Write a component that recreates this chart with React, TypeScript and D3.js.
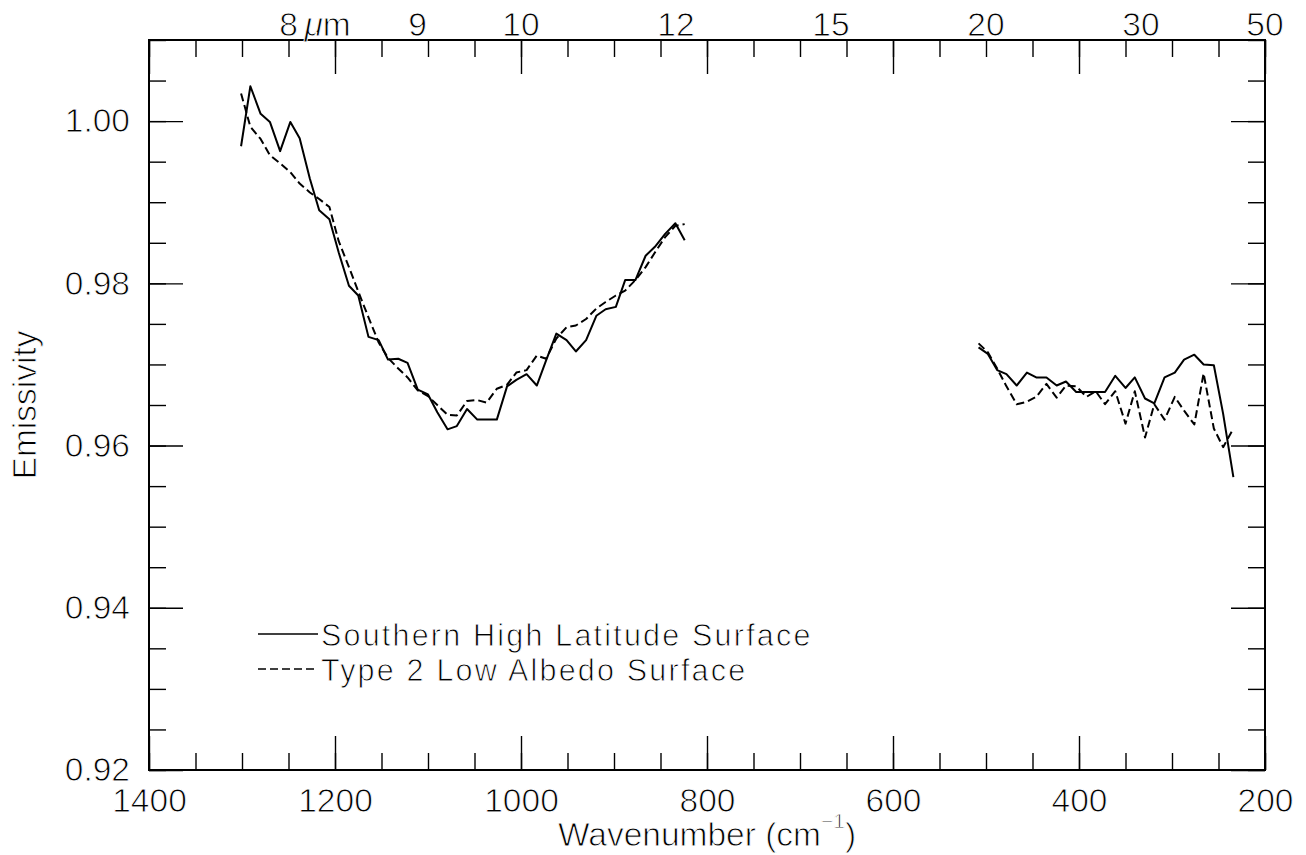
import React, { useEffect, useRef } from 'react'
import * as d3 from 'd3'

// wavenumber grid (cm-1) of the two spectral ranges
const wavenumbersA = [
  1301, 1291, 1280, 1270, 1259, 1248, 1238, 1227, 1217, 1206, 1196, 1185, 1175,
  1164, 1153, 1143, 1132, 1122, 1111, 1100, 1090, 1079, 1069, 1058, 1047, 1037,
  1026, 1015, 1005, 994, 983, 973, 962, 951, 941, 930, 919, 909, 898, 888, 877,
  866, 856, 845, 834, 824
]
const wavenumbersB = [
  508, 498, 488, 478, 467, 456, 446, 435, 424, 414, 403, 392, 382, 372, 361,
  350, 340, 329, 319, 308, 297, 287, 276, 266, 255, 245, 234
]

// Southern High Latitude Surface (solid)
const southernA = [
  0.9969, 1.0043, 1.0009, 0.9999, 0.9963, 0.9999, 0.9979, 0.9929, 0.989,
  0.9879, 0.9838, 0.9797, 0.9785, 0.9734, 0.973, 0.9706, 0.9707, 0.9702,
  0.9669, 0.9663, 0.9641, 0.962, 0.9624, 0.9645, 0.9632, 0.9632, 0.9632,
  0.9673, 0.9681, 0.9688, 0.9674, 0.9705, 0.9738, 0.973, 0.9716, 0.973, 0.976,
  0.9768, 0.9771, 0.9804, 0.9804, 0.9834, 0.9845, 0.9861, 0.9874, 0.9853
]
const southernB = [
  0.9721, 0.9713, 0.9693, 0.9688, 0.9674, 0.969, 0.9684, 0.9684, 0.9674,
  0.9679, 0.9666, 0.9666, 0.9666, 0.9666, 0.9686, 0.9671, 0.9684, 0.9658,
  0.9652, 0.9684, 0.969, 0.9706, 0.9712, 0.97, 0.9699, 0.9639, 0.9561
]

// Type 2 Low Albedo Surface (dashed)
const type2A = [
  1.0034, 0.9993, 0.9978, 0.9958, 0.9948, 0.9937, 0.9923, 0.9912, 0.9904,
  0.9894, 0.9852, 0.982, 0.979, 0.9758, 0.9727, 0.9708, 0.9695, 0.9684,
  0.9668, 0.9661, 0.965, 0.9638, 0.9637, 0.9655, 0.9656, 0.9653, 0.967,
  0.9675, 0.969, 0.9693, 0.9711, 0.9707, 0.9732, 0.9746, 0.9748, 0.9756,
  0.9769, 0.9777, 0.9785, 0.9791, 0.9804, 0.982, 0.9838, 0.9857, 0.9871, 0.9873
]
const type2B = [
  0.9726, 0.9715, 0.9695, 0.9673, 0.9651, 0.9654, 0.966, 0.9676, 0.9659,
  0.9674, 0.9673, 0.966, 0.9667, 0.9651, 0.9667, 0.9627, 0.9667, 0.961,
  0.9651, 0.9632, 0.966, 0.9643, 0.9626, 0.9689, 0.9621, 0.9598, 0.9621
]

const xMajor = [1400, 1200, 1000, 800, 600, 400, 200]
const yMajor = [0.92, 0.94, 0.96, 0.98, 1.0]
const wavelengths = [8, 9, 10, 12, 15, 20, 30, 50]

const FONT = "'Liberation Sans', Arial, sans-serif"

// thin the glyphs a little, the original uses a stroked vector font
const thin = (t) =>
  t
    .attr('fill', '#000')
    .attr('stroke', '#fff')
    .attr('stroke-width', 0.9)
    .style('font-family', FONT)

const App = () => {
  const ref = useRef(null)

  useEffect(() => {
    const svg = d3.select(ref.current)
    svg.selectAll('*').remove()

    const left = 149
    const right = 1265
    const top = 40
    const bottom = 770

    const x = d3.scaleLinear().domain([1400, 200]).range([left, right])
    const y = d3.scaleLinear().domain([0.92, 1.01]).range([bottom, top])

    const xMinor = d3.range(1400, 199, -50)
    const yMinor = d3.range(0, 19).map((i) => 0.92 + i * 0.005)

    svg
      .append('rect')
      .attr('width', 1306)
      .attr('height', 855)
      .attr('fill', '#fff')

    const styleAxis = (g) => {
      g.select('.domain').remove()
      g.selectAll('line').attr('stroke', '#000').attr('stroke-width', 1.4)
      g.selectAll('text').call(thin).style('font-size', '33.5px')
    }

    // bottom axis
    svg
      .append('g')
      .attr('transform', `translate(0,${bottom})`)
      .call(d3.axisBottom(x).tickValues(xMinor).tickSize(-17).tickFormat(''))
      .call(styleAxis)
    svg
      .append('g')
      .attr('transform', `translate(0,${bottom})`)
      .call(
        d3
          .axisBottom(x)
          .tickValues(xMajor)
          .tickSize(-34)
          .tickPadding(18)
          .tickFormat(d3.format('d'))
      )
      .call(styleAxis)

    // top axis, same ticks, labels in micrometres
    svg
      .append('g')
      .attr('transform', `translate(0,${top})`)
      .call(d3.axisTop(x).tickValues(xMinor).tickSize(-17).tickFormat(''))
      .call(styleAxis)
    svg
      .append('g')
      .attr('transform', `translate(0,${top})`)
      .call(d3.axisTop(x).tickValues(xMajor).tickSize(-34).tickFormat(''))
      .call(styleAxis)

    // left axis
    svg
      .append('g')
      .attr('transform', `translate(${left},0)`)
      .call(d3.axisLeft(y).tickValues(yMinor).tickSize(-17).tickFormat(''))
      .call(styleAxis)
    svg
      .append('g')
      .attr('transform', `translate(${left},0)`)
      .call(
        d3
          .axisLeft(y)
          .tickValues(yMajor)
          .tickSize(-34)
          .tickPadding(19)
          .tickFormat(d3.format('.2f'))
      )
      .call(styleAxis)

    // right axis
    svg
      .append('g')
      .attr('transform', `translate(${right},0)`)
      .call(d3.axisRight(y).tickValues(yMinor).tickSize(-17).tickFormat(''))
      .call(styleAxis)
    svg
      .append('g')
      .attr('transform', `translate(${right},0)`)
      .call(d3.axisRight(y).tickValues(yMajor).tickSize(-34).tickFormat(''))
      .call(styleAxis)

    // frame
    svg
      .append('rect')
      .attr('x', left)
      .attr('y', top)
      .attr('width', right - left)
      .attr('height', bottom - top)
      .attr('fill', 'none')
      .attr('stroke', '#000')
      .attr('stroke-width', 2)

    // wavelength labels on top
    svg
      .append('g')
      .selectAll('text')
      .data(wavelengths)
      .enter()
      .append('text')
      .attr('x', (d) => x(10000 / d))
      .attr('y', 36)
      .attr('text-anchor', 'middle')
      .call(thin)
      .style('font-size', '33.5px')
      .text((d) => d)
    svg
      .append('text')
      .attr('x', x(10000 / wavelengths[0]) + 16)
      .attr('y', 36)
      .call(thin)
      .style('font-size', '33.5px')
      .html('<tspan font-style="italic">μ</tspan>m')

    // axis titles
    const xt = svg
      .append('text')
      .attr('x', (left + right) / 2)
      .attr('y', 846)
      .attr('text-anchor', 'middle')
      .call(thin)
      .style('font-size', '33.5px')
    xt.append('tspan').text('Wavenumber (cm')
    xt.append('tspan').attr('dy', -18).style('font-size', '21px').text('−1')
    xt.append('tspan').attr('dy', 18).text(')')

    svg
      .append('text')
      .attr('transform', `translate(36,${(top + bottom) / 2}) rotate(-90)`)
      .attr('text-anchor', 'middle')
      .call(thin)
      .style('font-size', '33.5px')
      .text('Emissivity')

    // spectra
    const line = d3
      .line()
      .x((d) => x(d[0]))
      .y((d) => y(d[1]))

    const series = [
      { w: wavenumbersA, v: southernA, dash: null },
      { w: wavenumbersB, v: southernB, dash: null },
      { w: wavenumbersA, v: type2A, dash: '8,4' },
      { w: wavenumbersB, v: type2B, dash: '8,4' }
    ]
    series.forEach((s) => {
      svg
        .append('path')
        .datum(s.w.map((w, i) => [w, s.v[i]]))
        .attr('d', line)
        .attr('fill', 'none')
        .attr('stroke', '#000')
        .attr('stroke-width', 2)
        .attr('stroke-linejoin', 'round')
        .attr('stroke-dasharray', s.dash)
    })

    // legend
    const legend = [
      { label: 'Southern High Latitude Surface', dash: null, ly: 634 },
      { label: 'Type 2 Low Albedo Surface', dash: '8,4', ly: 669 }
    ]
    legend.forEach((l) => {
      svg
        .append('line')
        .attr('x1', 258)
        .attr('x2', 318)
        .attr('y1', l.ly)
        .attr('y2', l.ly)
        .attr('stroke', '#000')
        .attr('stroke-width', 1.6)
        .attr('stroke-dasharray', l.dash)
      svg
        .append('text')
        .attr('x', 321)
        .attr('y', l.ly + 12)
        .call(thin)
        .style('font-size', '30.5px')
        .style('letter-spacing', '2.2px')
        .text(l.label)
    })
  }, [])

  return (
    <svg
      ref={ref}
      width={1306}
      height={855}
      style={{ position: 'absolute', left: 0, top: 0 }}
    />
  )
}

export default App
